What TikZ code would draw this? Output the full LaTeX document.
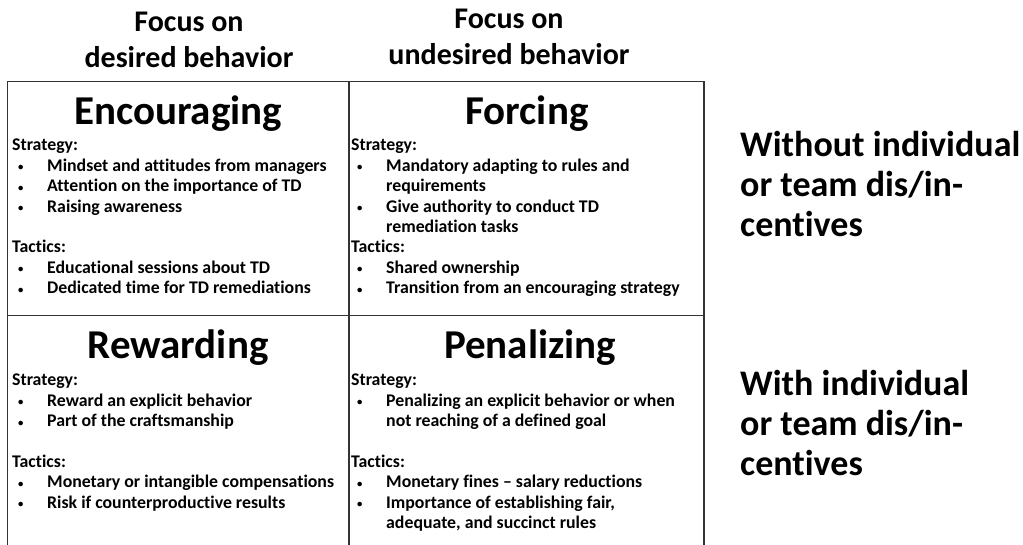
\documentclass[tikz,border=0pt]{standalone}
\usepackage{fontspec}
\setmainfont{Carlito}[Ligatures=CommonOff]
\newcommand{\bitem}{\makebox[35pt][l]{\hspace*{6pt}\raisebox{0.5pt}{\scalebox{0.6}{\textbullet}}}}
\newcommand{\bcont}{\hspace*{35pt}}
\begin{document}
\begin{tikzpicture}
[x=1pt,y=-1pt,
  gridline/.style={draw=black!80,line width=1.3pt},
  headtext/.style={font=\fontsize{30}{36}\selectfont\bfseries,align=center,inner sep=0pt},
  titletext/.style={font=\fontsize{41}{44}\selectfont\bfseries,inner sep=0pt},
  celltext/.style={font=\fontsize{17.8}{20.4}\selectfont\bfseries,align=left,anchor=north west,inner sep=0pt},
  sidetext/.style={font=\fontsize{36}{40}\selectfont\bfseries,align=left,anchor=north west,inner sep=0pt}]
\useasboundingbox (0,0) rectangle (1023,544);
%%% grid of the four quadrants
% corners
\coordinate (tl) at (7.5,81.5);
\coordinate (tm) at (349,81.5);
\coordinate (tr) at (704,81.5);
\coordinate (ml) at (7.5,315.5);
\coordinate (mr) at (704,315.5);
\coordinate (bl) at (7.5,546);
\coordinate (bm) at (349,546);
\coordinate (br) at (704,546);
% lines
\draw[gridline] (bl) -- (tl) -- (tr) -- (br);
\draw[gridline] (tm) -- (bm);
\draw[gridline] (ml) -- (mr);
%
%%% column heads
\node (desired) at (189,40) [headtext] {Focus on\\desired behavior};
\node (undesired) at (509,37) [headtext] {Focus on\\undesired behavior};
%
%%% quadrant titles
\node (encouraging) at (178,114) [titletext] {Encouraging};
\node (forcing) at (527,114) [titletext] {Forcing};
\node (rewarding) at (178,348) [titletext] {Rewarding};
\node (penalizing) at (530,348) [titletext] {Penalizing};
%
%%% quadrant texts
\node (encbody) at (12,139) [celltext] {Strategy:\\
\bitem Mindset and attitudes from managers\\
\bitem Attention on the importance of TD\\
\bitem Raising awareness\\
\mbox{}\\
Tactics:\\
\bitem Educational sessions about TD\\
\bitem Dedicated time for TD remediations};
\node (forbody) at (351,139) [celltext] {Strategy:\\
\bitem Mandatory adapting to rules and\\
\bcont requirements\\
\bitem Give authority to conduct TD\\
\bcont remediation tasks\\
Tactics:\\
\bitem Shared ownership\\
\bitem Transition from an encouraging strategy};
\node (rewbody) at (12,374) [celltext] {Strategy:\\
\bitem Reward an explicit behavior\\
\bitem Part of the craftsmanship\\
\mbox{}\\
Tactics:\\
\bitem Monetary or intangible compensations\\
\bitem Risk if counterproductive results};
\node (penbody) at (351,374) [celltext] {Strategy:\\
\bitem Penalizing an explicit behavior or when\\
\bcont not reaching of a defined goal\\
\mbox{}\\
Tactics:\\
\bitem Monetary fines -- salary reductions\\
\bitem Importance of establishing fair,\\
\bcont adequate, and succinct rules};
%
%%% row labels
\node (without) at (740,131) [sidetext] {Without individual\\or team dis/in-\\centives};
\node (with) at (740,370) [sidetext] {With individual\\or team dis/in-\\centives};
\end{tikzpicture}
\end{document}
